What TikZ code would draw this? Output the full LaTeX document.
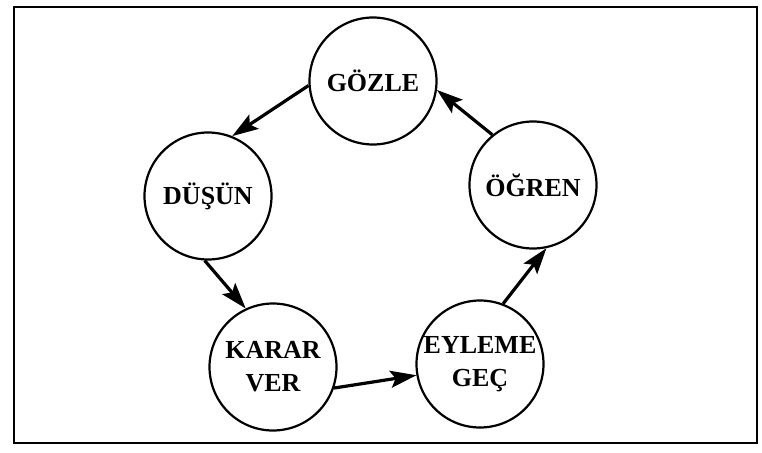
\documentclass[tikz,border=0pt]{standalone}
\usepackage{fontspec}
\setmainfont{Liberation Serif}
\usetikzlibrary{arrows.meta}
\tikzset{
  stage/.style={circle, draw, line width=2.2pt, minimum size=127pt, inner sep=0pt,
    align=center, font=\fontsize{26}{33}\selectfont\bfseries},
  flow/.style={line width=3.2pt, -{Stealth[length=26pt,width=17pt,inset=5pt]}},
  frame/.style={line width=2.6pt}
}
\begin{document}
\begin{tikzpicture}[x=1pt,y=-1pt]
\useasboundingbox (0,0) rectangle (762,452);
\draw[frame] (14,7) rectangle (757,443);
\node[stage] (g) at (373,81) {GÖZLE};
\node[stage] (d) at (208,196) {DÜŞÜN};
\node[stage] (o) at (533,185) {ÖĞREN};
\node[stage] (k) at (273,367) {KARAR\\VER};
\node[stage] (e) at (480,364) {EYLEME\\GEÇ};
\draw[flow] (g.184) -- (d.68);
\draw[flow] (d.267) -- (k.115);
\draw[flow] (k.341) -- (e.190);
\draw[flow] (e.69) -- (o.282);
\draw[flow] (o.129) -- (g.352);
\end{tikzpicture}
\end{document}
